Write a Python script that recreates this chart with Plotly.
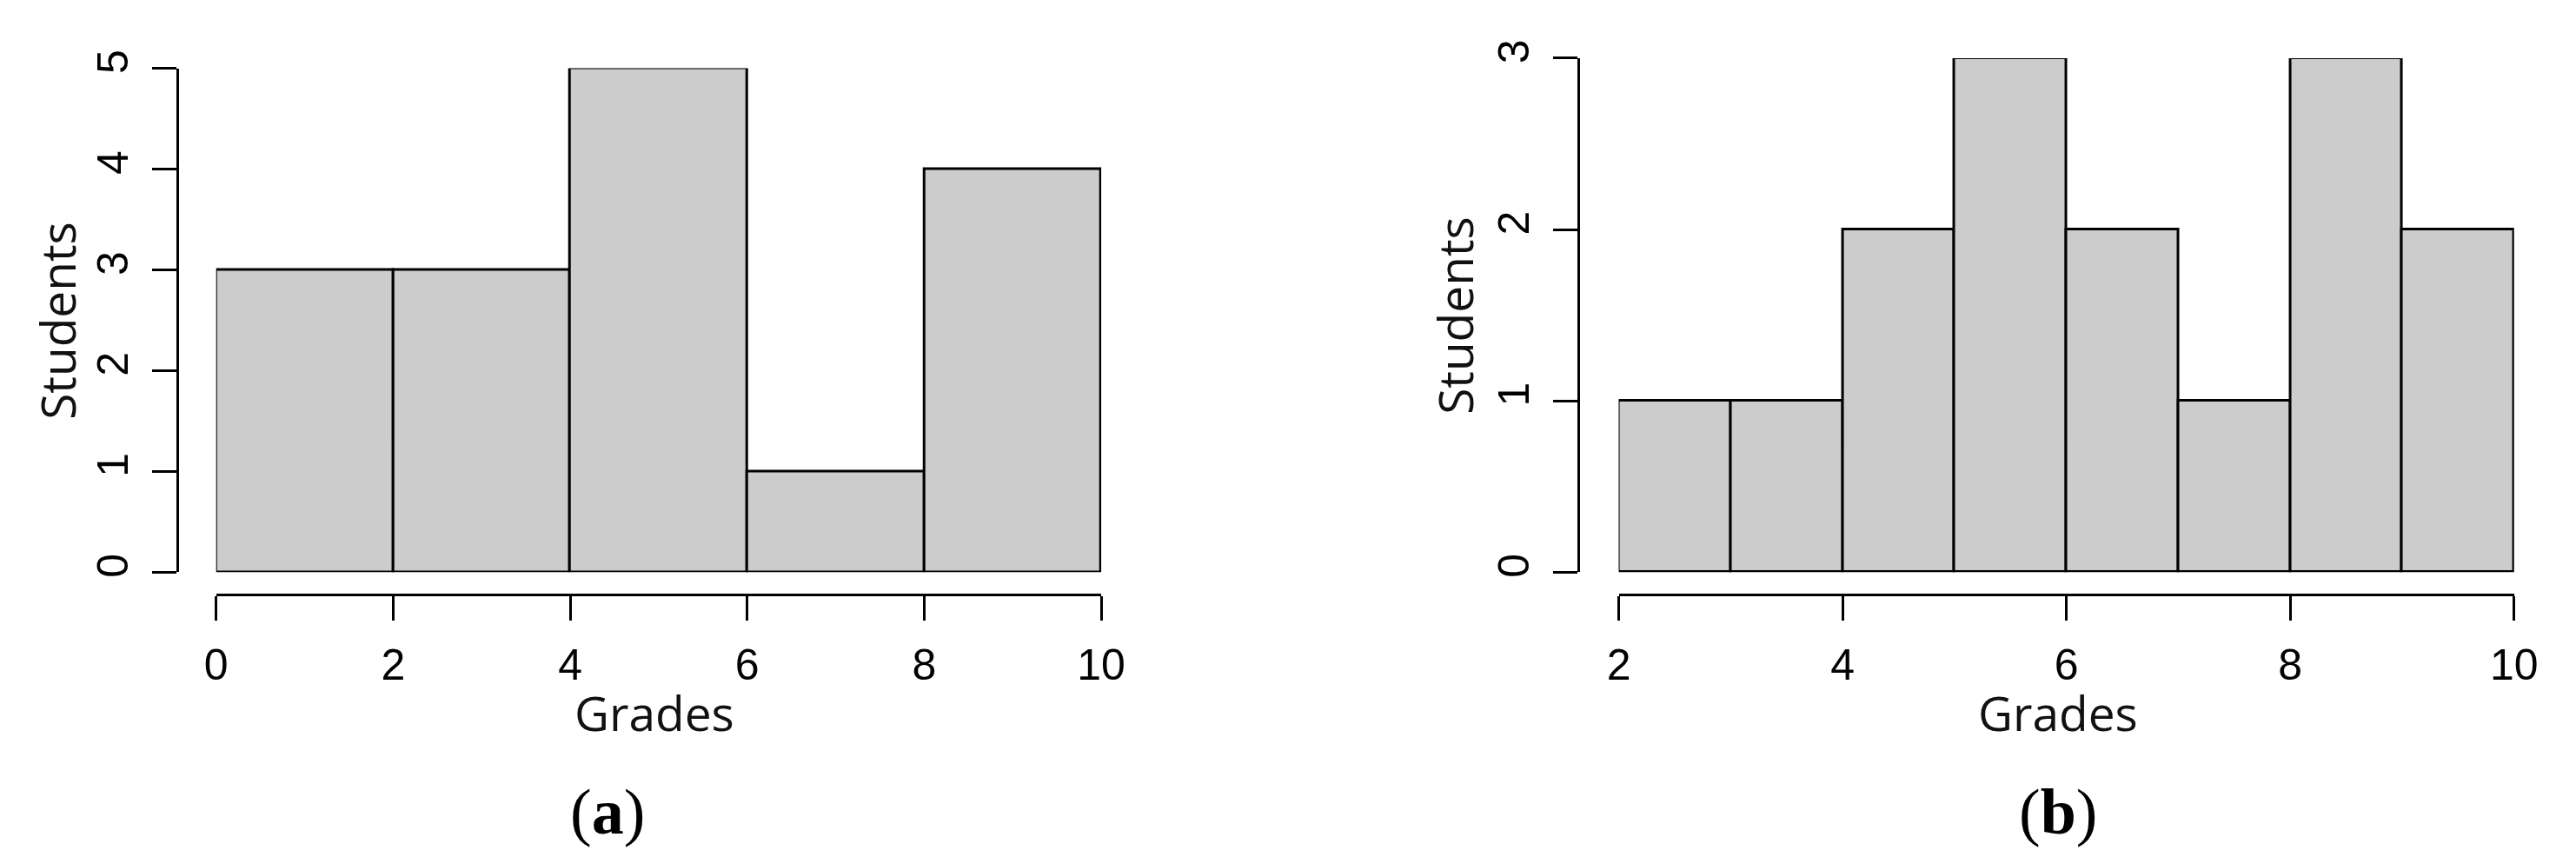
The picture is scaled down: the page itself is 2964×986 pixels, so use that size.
import plotly.graph_objects as go

# ---- data ----
a_edges = [0, 2, 4, 6, 8, 10]
a_counts = [3, 3, 5, 1, 4]
a_xticks = [0, 2, 4, 6, 8, 10]
a_yticks = [0, 1, 2, 3, 4, 5]

b_edges = [2, 3, 4, 5, 6, 7, 8, 9, 10]
b_counts = [1, 1, 2, 3, 2, 1, 3, 2]
b_xticks = [2, 4, 6, 8, 10]
b_yticks = [0, 1, 2, 3]

x_title = "Grades"
y_title = "Students"
panel_labels = ["(<b>a</b>)", "(<b>b</b>)"]

W, H = 2964, 986
BAR_FILL = "#cbcccb"
TICK_FONT = dict(family="Liberation Sans, Arial, sans-serif", size=50, color="black")
TITLE_FONT = dict(family="Open Sans, Noto Sans, sans-serif", size=55, color="#111111")
LABEL_FONT = dict(family="Liberation Serif, Times New Roman, serif", size=74, color="black")


def px(x):
    return x / W


def py(y):
    return 1 - y / H


fig = go.Figure()


def add_panel(idx, edges, counts, xticks, yticks, xl, xr, ytop, ybot, yaxis_x,
              ytitle_x, xtitle_x, label_x):
    sfx = "" if idx == 1 else str(idx)
    centers = [(edges[i] + edges[i + 1]) / 2 for i in range(len(counts))]
    widths = [edges[i + 1] - edges[i] for i in range(len(counts))]
    fig.add_trace(go.Bar(
        x=centers, y=counts, width=widths,
        marker=dict(color=BAR_FILL, line=dict(color="black", width=3)),
        xaxis="x" + sfx, yaxis="y" + sfx, showlegend=False, hoverinfo="x+y",
    ))
    fig.update_layout(**{
        "xaxis" + sfx: dict(
            domain=[px(xl), px(xr)], range=[edges[0], edges[-1]],
            anchor="free", position=py(673),
            showline=True, linecolor="black", linewidth=3,
            ticks="outside", ticklen=28, tickwidth=3, tickcolor="black",
            tickvals=xticks, ticktext=[str(t) for t in xticks],
            tickfont=TICK_FONT, showgrid=False, zeroline=False,
            ticklabelstandoff=8,
        ),
        "yaxis" + sfx: dict(
            domain=[py(ybot), py(ytop)], range=[yticks[0], yticks[-1]],
            anchor="free", position=px(yaxis_x),
            showline=True, linecolor="black", linewidth=3,
            ticks="outside", ticklen=28, tickwidth=3, tickcolor="black",
            tickvals=yticks, ticktext=[str(t) for t in yticks],
            tickangle=-90, tickfont=TICK_FONT, showgrid=False, zeroline=False,
            ticklabelstandoff=8,
        ),
    })
    fig.add_annotation(text=x_title, x=px(xtitle_x), y=py(813), xref="paper", yref="paper",
                       xanchor="center", yanchor="middle", showarrow=False, font=TITLE_FONT)
    fig.add_annotation(text=y_title, x=px(ytitle_x), y=py((ytop + ybot) / 2), xref="paper",
                       yref="paper", xanchor="center", yanchor="middle", showarrow=False,
                       textangle=-90, font=TITLE_FONT)
    fig.add_annotation(text=panel_labels[idx - 1], x=px(label_x), y=py(930), xref="paper",
                       yref="paper", xanchor="center", yanchor="middle", showarrow=False,
                       font=LABEL_FONT)


add_panel(1, a_edges, a_counts, a_xticks, a_yticks, 230, 1263, 51, 647, 185, 44, 742, 687)
add_panel(2, b_edges, b_counts, b_xticks, b_yticks, 1867, 2912, 39, 647, 1820, 1675, 2380, 2380)

fig.update_layout(
    width=W, height=H,
    margin=dict(l=0, r=0, t=0, b=0),
    paper_bgcolor="white", plot_bgcolor="white",
    bargap=0,
)

fig.write_html("out.html")
